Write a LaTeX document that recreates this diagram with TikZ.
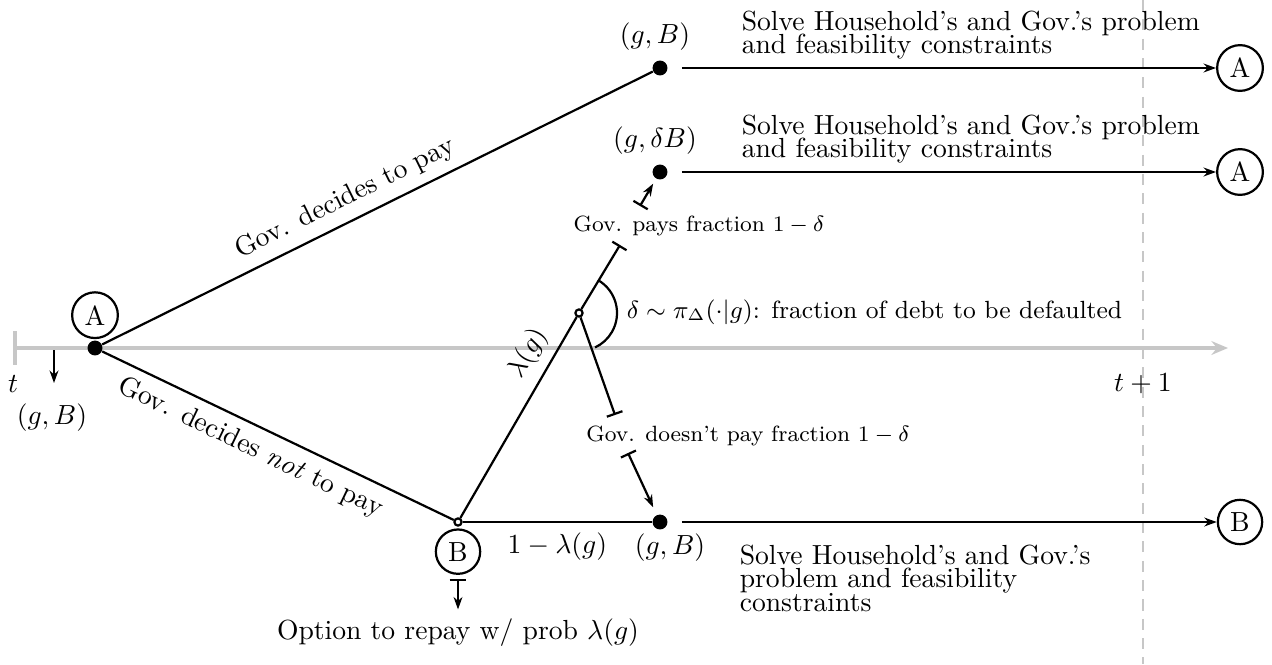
\documentclass[tikz,border=0pt]{standalone}
\usepackage{amsmath,amssymb}
\usepackage{tikz}
\usetikzlibrary{arrows.meta,positioning,calc}
\tikzset{
  dotnode/.style={circle, fill=black, inner sep=0pt, minimum size=5.4pt},
  opennode/.style={circle, draw=black, thick, inner sep=0pt, minimum size=2.6pt},
  statecirc/.style={circle, draw=black, thick, inner sep=2.2pt},
  branchline/.style={thick, draw=black},
  flowarrow/.style={-{Stealth[length=4.5pt,width=3.2pt]}, thick, draw=black},
  barline/.style={-{Bar[width=6pt]}, thick, draw=black},
  bararrow/.style={{Bar[width=6pt]}-{Stealth[length=4.5pt,width=3.2pt]}, thick, draw=black},
  timeaxis/.style={{Bar[width=12pt]}-{Stealth[length=6pt,width=5pt,inset=2pt]}, line width=1.5pt, draw=black!22},
  periodline/.style={dash pattern=on 4pt off 3pt, line width=0.8pt, draw=black!22},
  fraclabel/.style={font=\footnotesize},
  solvetext/.style={align=left, anchor=west}
}

\begin{document}
\begin{tikzpicture}[x=0.362pt, y=-0.362pt]
  \useasboundingbox (0,0) rectangle (1272,664);
  % period t to t+1
  \draw[periodline] (1143,0) -- (1143,664);
  \coordinate (tstart) at (13,348);
  \coordinate (tend) at (1228,348);
  \draw[timeaxis] (tstart) -- (tend);
  \node (tlab) at (13,384) {$t$};
  \node (tnext) at (1143,384) {$t+1$};
  \node (state0) at (52,418) {$(g,B)$};
  \coordinate (statetop) at (54,350);
  \coordinate (statebot) at (54,383);
  \draw[flowarrow] (statetop) -- (statebot);

  % decision nodes
  \node[dotnode] (A) at (95,348) {};
  \node[statecirc, above=0.3pt of A] (Alab) {A};
  \node[dotnode] (pay) at (660,68) {};
  \node[dotnode] (part) at (660,172) {};
  \node[dotnode] (def) at (660,522) {};
  \node[opennode] (B) at (458,522) {};
  \node[statecirc, below=0.6pt of B] (Blab) {B};
  \node[opennode] (mid) at (579,313) {};

  % states reached
  \node (payst) at (655,37) {$(g,B)$};
  \node (partst) at (655,141) {$(g,\delta B)$};
  \node (defst) at (670,548) {$(g,B)$};

  % next period
  \node[statecirc] (nextA1) at (1240,68) {A};
  \node[statecirc] (nextA2) at (1240,172) {A};
  \node[statecirc] (nextB) at (1240,522) {B};
  \draw[flowarrow, shorten <=5pt] (pay) -- (nextA1);
  \draw[flowarrow, shorten <=5pt] (part) -- (nextA2);
  \draw[flowarrow, shorten <=5pt] (def) -- (nextB);
  \node[solvetext] (solve1) at (732,35) {Solve Household's and Gov.'s problem\\[-3.5pt]and feasibility constraints};
  \node[solvetext] (solve2) at (732,139) {Solve Household's and Gov.'s problem\\[-3.5pt]and feasibility constraints};
  \node[solvetext] (solve3) at (730,578) {Solve Household's and Gov.'s\\[-3.5pt]problem and feasibility\\[-3.5pt]constraints};

  % branches
  \draw[branchline] (A) -- node[sloped, above, pos=0.46] {Gov. decides to pay} (pay);
  \draw[branchline] (A) -- node[sloped, below, pos=0.45] {Gov. decides \textit{not} to pay} (B);
  \draw[branchline] (B) -- node[sloped, above, pos=0.76] {$\lambda(g)$} (mid);
  \draw[branchline] (B) -- node[below] {$1-\lambda(g)$} (def);

  % partial default
  \coordinate (paybar) at (620,245);
  \coordinate (defbar) at (615,415);
  \draw[barline] (mid) -- (paybar);
  \draw[barline] (mid) -- (defbar);
  \draw[thick] ([shift={(-60:38)}]mid.center) arc[start angle=-60, end angle=65, radius=38];
  \node[anchor=west, font=\small] (share) at (617,312) {$\delta\sim\pi_\Delta(\cdot|g)$: fraction of debt to be defaulted};
  \node[fraclabel] (paytxt) at (699,226) {Gov. pays fraction $1-\delta$};
  \node[fraclabel] (deftxt) at (748,436) {Gov. doesn't pay fraction $1-\delta$};
  \coordinate (paystart) at (640,206);
  \coordinate (defstart) at (628,453);
  \draw[bararrow, shorten >=2pt] (paystart) -- (part);
  \draw[bararrow, shorten >=3pt] (defstart) -- (def);

  % repayment option
  \node (option) at (458,633) {Option to repay w/ prob $\lambda(g)$};
  \coordinate (optstart) at (458,579);
  \draw[bararrow] (optstart) -- (option.north);
\end{tikzpicture}
\end{document}
